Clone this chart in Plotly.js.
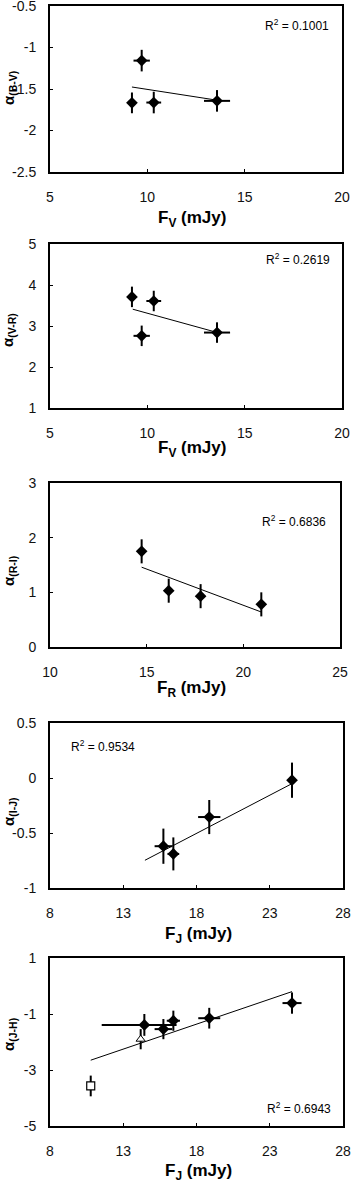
<!DOCTYPE html>
<html>
<head>
<meta charset="utf-8">
<script src="https://cdn.plot.ly/plotly-3.0.1.min.js"></script>
<style>
  html, body { margin: 0; padding: 0; background: #fff; }
  #plot { width: 351px; height: 1185px; }
</style>
</head>
<body>
<div id="plot"></div>
<script>
// ---- data ----

// panels 1 & 2 share the V-band fluxes
let fluxV = [9.21, 9.71, 10.33, 13.58];
let fluxVErr = [0.15, 0.42, 0.38, 0.67];

// panel 1: alpha(B-V)
let alphaBV = [-1.667, -1.158, -1.663, -1.643];
let alphaBVErr = [0.125, 0.13, 0.13, 0.13];
let fitBVx = [9.21, 13.58];
let fitBVy = [-1.476, -1.635];

// panel 2: alpha(V-R)
let alphaVR = [3.71, 2.76, 3.61, 2.84];
let alphaVRErr = [0.25, 0.25, 0.25, 0.25];
let fitVRx = [9.25, 13.6];
let fitVRy = [3.41, 2.84];

// panel 3: alpha(R-I) vs F_R
let fluxR = [14.74, 16.14, 17.79, 20.93];
let alphaRI = [1.75, 1.03, 0.93, 0.78];
let alphaRIErr = [0.22, 0.22, 0.22, 0.22];
let fitRIx = [14.74, 20.93];
let fitRIy = [1.46, 0.64];

// panel 4: alpha(I-J) vs F_J
let fluxJ = [15.74, 16.42, 18.87, 24.52];
let fluxJErr = [0.6, 0.4, 0.76, 0.2];
let alphaIJ = [-0.62, -0.69, -0.355, -0.02];
let alphaIJErr = [0.16, 0.15, 0.155, 0.16];
let fitIJx = [14.48, 24.52];
let fitIJy = [-0.748, -0.051];

// panel 5: alpha(J-H) vs F_J
let fluxJ5 = [14.44, 15.74, 16.42, 18.87, 24.52];
let fluxJ5ErrPlus = [2.2, 0.6, 0.45, 0.75, 0.65];
let fluxJ5ErrMinus = [2.91, 0.6, 0.45, 0.75, 0.65];
let alphaJH = [-1.39, -1.54, -1.24, -1.15, -0.61];
let alphaJHErr = [0.39, 0.36, 0.36, 0.37, 0.38];
let triX = [14.19], triY = [-1.90], triErr = [0.36];
let sqX = [10.78], sqY = [-3.57], sqErr = [0.37];
let fitJHx = [10.78, 24.52];
let fitJHy = [-2.65, -0.20];

// r-squared labels
let r2Labels = ['0.1001', '0.2619', '0.6836', '0.9534', '0.6943'];

// tick labels (plain hyphen minus like the original)
let ticks1 = [-2.5, -2, -1.5, -1, -0.5];
let ticks1Text = ['-2.5', '-2', '-1.5', '-1', '-0.5'];
let ticks4 = [-1, -0.5, 0, 0.5];
let ticks4Text = ['-1', '-0.5', '0', '0.5'];
let ticks5 = [-5, -3, -1, 1];
let ticks5Text = ['-5', '-3', '-1', '1'];

// ---- helpers ----
const W = 351, H = 1185;
function xdom(a, b) { return [a / W, b / W]; }
function ydom(top, bottom) { return [1 - bottom / H, 1 - top / H]; }
function px(x) { return x / W; }
function py(y) { return 1 - y / H; }

function points(x, y, xerr, yerr, n) {
    let t = {
        x: x, y: y, type: 'scatter', mode: 'markers',
        xaxis: 'x' + n, yaxis: 'y' + n,
        marker: { symbol: 'diamond', size: 9, color: '#000' },
        error_y: { type: 'data', array: yerr, color: '#000', thickness: 2, width: 0 }
    };
    if (xerr) {
        t.error_x = { type: 'data', array: xerr, color: '#000', thickness: 2, width: 0 };
    }
    return t;
}

function fit(x, y, n) {
    return {
        x: x, y: y, type: 'scatter', mode: 'lines',
        xaxis: 'x' + n, yaxis: 'y' + n,
        line: { color: '#000', width: 1 }
    };
}

let data = [
    fit(fitBVx, fitBVy, ''),
    points(fluxV, alphaBV, fluxVErr, alphaBVErr, ''),
    fit(fitVRx, fitVRy, 2),
    points(fluxV, alphaVR, fluxVErr, alphaVRErr, 2),
    fit(fitRIx, fitRIy, 3),
    points(fluxR, alphaRI, null, alphaRIErr, 3),
    fit(fitIJx, fitIJy, 4),
    points(fluxJ, alphaIJ, fluxJErr, alphaIJErr, 4),
    fit(fitJHx, fitJHy, 5)
];

let p5 = points(fluxJ5, alphaJH, null, alphaJHErr, 5);
p5.error_x = { type: 'data', symmetric: false, array: fluxJ5ErrPlus, arrayminus: fluxJ5ErrMinus,
               color: '#000', thickness: 2, width: 0 };
data.push(p5);

// open triangle and open square
data.push({
    x: triX, y: triY, type: 'scatter', mode: 'markers', xaxis: 'x5', yaxis: 'y5',
    marker: { symbol: 'triangle-up', size: 8, color: '#fff', line: { color: '#000', width: 1 } },
    error_y: { type: 'data', array: triErr, color: '#000', thickness: 2, width: 0 }
});
data.push({
    x: sqX, y: sqY, type: 'scatter', mode: 'markers', xaxis: 'x5', yaxis: 'y5',
    marker: { symbol: 'square', size: 8, color: '#fff', line: { color: '#000', width: 1.2 } },
    error_y: { type: 'data', array: sqErr, color: '#000', thickness: 2, width: 0 }
});

const tickFont = { family: 'Liberation Sans, Arial, sans-serif', size: 14, color: '#111' };

function xax(dom, range, dtick, anchor) {
    return {
        domain: dom, range: range, dtick: dtick, tick0: range[0], anchor: anchor,
        showgrid: false, zeroline: false, showline: true, linecolor: '#000', linewidth: 2,
        mirror: true, ticks: 'inside', ticklen: 3, tickcolor: '#000', tickwidth: 1,
        tickfont: tickFont, ticklabelstandoff: 11, ticklabeloverflow: 'allow', fixedrange: true
    };
}
function yax(dom, range, dtick, anchor, vals, text) {
    let a = {
        domain: dom, range: range, dtick: dtick, tick0: range[0], anchor: anchor,
        showgrid: false, zeroline: false, showline: true, linecolor: '#000', linewidth: 2,
        mirror: true, ticks: 'inside', ticklen: 3, tickcolor: '#000', tickwidth: 1,
        tickfont: tickFont, ticklabelstandoff: 9, ticklabeloverflow: 'allow', fixedrange: true
    };
    if (vals) { a.tickmode = 'array'; a.tickvals = vals; a.ticktext = text; }
    return a;
}

const titleFont = { family: 'Liberation Sans, Arial, sans-serif', size: 17, color: '#000' };
const yTitleFont = { family: 'Liberation Sans, Arial, sans-serif', size: 15, color: '#000' };
const r2Font = { family: 'Liberation Sans, Arial, sans-serif', size: 12, color: '#000' };

function xTitle(text, x, y) {
    return { text: '<b>' + text + '</b>', xref: 'paper', yref: 'paper', x: px(x), y: py(y),
             xanchor: 'center', yanchor: 'middle', showarrow: false, font: titleFont };
}
function yTitle(text, x, y) {
    return { text: '<b>' + text + '</b>', xref: 'paper', yref: 'paper', x: px(x), y: py(y),
             xanchor: 'center', yanchor: 'middle', showarrow: false, textangle: -90, font: yTitleFont };
}
function r2(val, x, y, anchor) {
    return { text: 'R<sup>2</sup> = ' + val, xref: 'paper', yref: 'paper', x: px(x), y: py(y),
             xanchor: anchor, yanchor: 'middle', showarrow: false, font: r2Font };
}

var layout = {
    width: W, height: H,
    margin: { l: 0, r: 0, t: 0, b: 0 },
    paper_bgcolor: '#fff', plot_bgcolor: '#fff',
    showlegend: false,
    xaxis: xax(xdom(50, 342), [5, 20], 5, 'y'),
    yaxis: yax(ydom(6, 172), [-2.5, -0.5], 0.5, 'x', ticks1, ticks1Text),
    xaxis2: xax(xdom(50, 342), [5, 20], 5, 'y2'),
    yaxis2: yax(ydom(244, 408), [1, 5], 1, 'x2'),
    xaxis3: xax(xdom(50, 340), [10, 25], 5, 'y3'),
    yaxis3: yax(ydom(483, 647), [0, 3], 1, 'x3'),
    xaxis4: xax(xdom(50, 343), [8, 28], 5, 'y4'),
    yaxis4: yax(ydom(723, 888), [-1, 0.5], 0.5, 'x4', ticks4, ticks4Text),
    xaxis5: xax(xdom(50, 343), [8, 28], 5, 'y5'),
    yaxis5: yax(ydom(958, 1126), [-5, 1], 2, 'x5', ticks5, ticks5Text),
    annotations: [
        xTitle('F<sub>V</sub> (mJy)', 192, 219),
        xTitle('F<sub>V</sub> (mJy)', 192, 449),
        xTitle('F<sub>R</sub> (mJy)', 191, 689),
        xTitle('F<sub>J</sub> (mJy)', 198, 935),
        xTitle('F<sub>J</sub> (mJy)', 198, 1172),
        yTitle('α<sub>(B-V)</sub>', 9, 88),
        yTitle('α<sub>(V-R)</sub>', 9, 330),
        yTitle('α<sub>(R-I)</sub>', 9, 571),
        yTitle('α<sub>(I-J)</sub>', 9, 812),
        yTitle('α<sub>(J-H)</sub>', 9, 1035),
        r2(r2Labels[0], 331, 25, 'right'),
        r2(r2Labels[1], 332, 259, 'right'),
        r2(r2Labels[2], 328, 521, 'right'),
        r2(r2Labels[3], 69, 746, 'left'),
        r2(r2Labels[4], 333, 1108, 'right')
    ]
};

Plotly.newPlot('plot', data, layout, { staticPlot: true, displayModeBar: false });
</script>
</body>
</html>
